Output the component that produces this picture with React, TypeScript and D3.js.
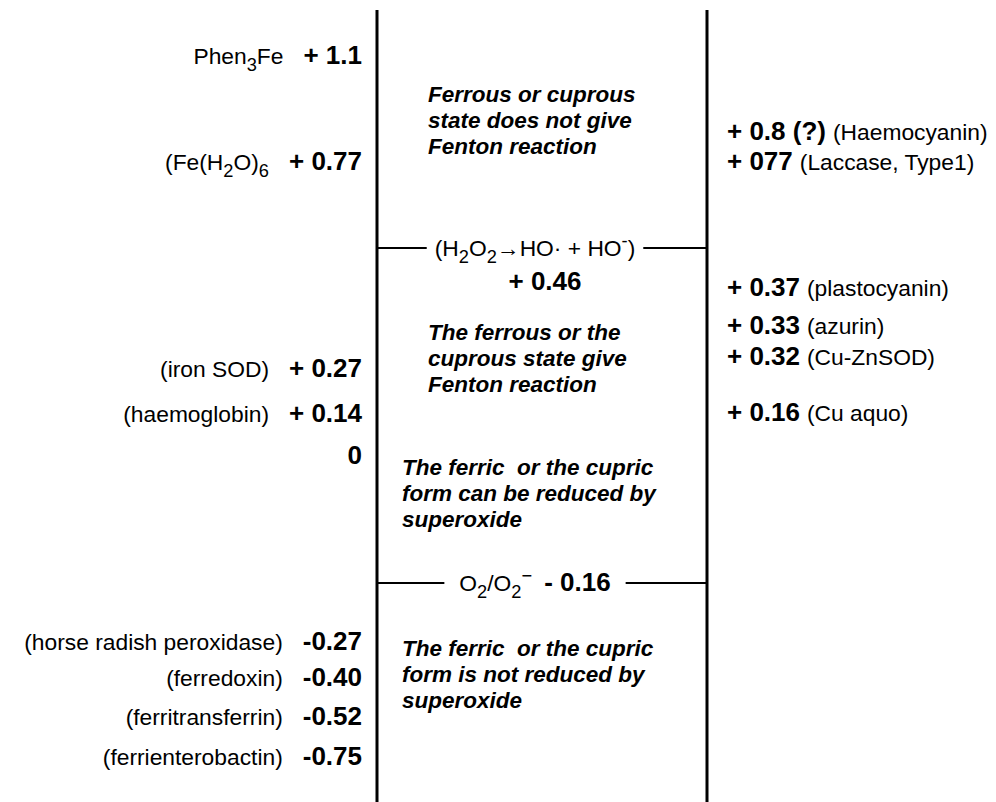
import { useEffect, useRef } from 'react'
import * as d3 from 'd3'

// left column: iron complexes / proteins and their redox potentials (V)
const leftLabels = [
  'Phen_3Fe',
  '(Fe(H_2O)_6',
  '(iron SOD)',
  '(haemoglobin)',
  '',
  '(horse radish peroxidase)',
  '(ferredoxin)',
  '(ferritransferrin)',
  '(ferrienterobactin)',
]
const leftPotentials = [1.1, 0.77, 0.27, 0.14, 0, -0.27, -0.4, -0.52, -0.75]

// right column: copper proteins
const rightLabels = ['(Haemocyanin)', '(Laccase, Type1)', '(plastocyanin)', '(azurin)', '(Cu-ZnSOD)', '(Cu aquo)']
const rightPotentials = [0.8, 0.77, 0.37, 0.33, 0.32, 0.16]
const rightValueText = ['+ 0.8 (?)', '+ 077', '+ 0.37', '+ 0.33', '+ 0.32', '+ 0.16']

// reference couples drawn across the middle column
const coupleLabels = ['(H_2O_2→HO· + HO^-)', 'O_2/O_2^−']
const couplePotentials = [0.46, -0.16]

const zoneNotes = [
  ['Ferrous or cuprous', 'state does not give', 'Fenton reaction'],
  ['The ferrous or the', 'cuprous state give', 'Fenton reaction'],
  ['The ferric  or the cupric', 'form can be reduced by', 'superoxide'],
  ['The ferric  or the cupric', 'form is not reduced by', 'superoxide'],
]

const W = 996
const H = 802
const FONT = '"Liberation Sans", Arial, Helvetica, sans-serif'

const fmtLeft = (v: number) => (v > 0 ? `+ ${v}` : v === 0 ? '0' : v.toFixed(2))
const fmtCouple = (v: number) => (v > 0 ? `+ ${v}` : `- ${Math.abs(v)}`)

// append text with _x subscripts and ^x superscripts, returns the leftover baseline shift
function rich(text: d3.Selection<SVGTextElement, unknown, null, undefined>, str: string, size: number) {
  let shift = 0
  str.split(/([_^].)/).filter(Boolean).forEach(p => {
    let target = 0
    let s = p
    let fs = size
    if (p[0] === '_') { target = size * 0.28; s = p.slice(1); fs = size * 0.8 }
    else if (p[0] === '^') { target = -size * 0.4; s = p.slice(1); fs = size * 0.8 }
    text.append('tspan').attr('dy', target - shift).attr('font-size', fs).text(s)
    shift = target
  })
  return shift
}

export default function App() {
  const ref = useRef<SVGSVGElement>(null)

  useEffect(() => {
    document.body.style.margin = '0'
    if (!ref.current) return
    const svg = d3.select(ref.current)
    svg.selectAll('*').remove()

    const xL = 377
    const xR = 707
    const xMid = (xL + xR) / 2
    const labelSize = 22.8
    const valueSize = 26
    const noteSize = 22.5

    // the ladder is not proportional: each potential sits on its own rung
    const rungs = Array.from(new Set([...leftPotentials, ...rightPotentials, ...couplePotentials])).sort((a, b) => b - a)
    const y = d3.scaleLinear()
      .domain(rungs)
      .range([55, 131, 161, 281, 287, 325, 356, 368, 412, 413, 455, 583, 641, 677, 716, 756])
    const base = (v: number) => y(v) + valueSize * 0.36

    const g = svg.append('g').attr('font-family', FONT).attr('fill', '#000')

    // vertical rails
    g.selectAll('line.rail')
      .data([xL, xR])
      .enter()
      .append('line')
      .attr('x1', d => d).attr('x2', d => d)
      .attr('y1', 10).attr('y2', H)
      .attr('stroke', '#000')
      .attr('stroke-width', 3)

    // left column
    leftPotentials.forEach((v, i) => {
      const t = g.append('text')
        .attr('x', 362)
        .attr('y', base(v))
        .attr('text-anchor', 'end')
        .attr('font-size', labelSize)
      const shift = leftLabels[i] ? rich(t, leftLabels[i], labelSize) : 0
      t.append('tspan')
        .attr('dx', leftLabels[i] ? 20 : 0)
        .attr('dy', -shift)
        .attr('font-weight', 'bold')
        .attr('font-size', valueSize)
        .text(fmtLeft(v))
    })

    // right column
    rightPotentials.forEach((v, i) => {
      const t = g.append('text')
        .attr('x', 727)
        .attr('y', base(v))
        .attr('font-size', labelSize)
      t.append('tspan')
        .attr('font-weight', 'bold')
        .attr('font-size', valueSize)
        .text(rightValueText[i])
      t.append('tspan')
        .attr('dx', 7)
        .text(rightLabels[i])
    })

    // reference couples with their threshold lines
    couplePotentials.forEach((v, i) => {
      const inline = i === 1
      const lineY = inline ? y(v) : y(v) - 33
      const gap = inline ? 15 : 8
      const t = g.append('text')
        .attr('x', xMid - 7)
        .attr('y', lineY + labelSize * 0.36)
        .attr('text-anchor', 'middle')
        .attr('font-size', labelSize)
      const shift = rich(t, coupleLabels[i], labelSize)
      if (inline) {
        t.append('tspan')
          .attr('dx', 12)
          .attr('dy', -shift)
          .attr('font-weight', 'bold')
          .attr('font-size', valueSize)
          .text(fmtCouple(v))
      } else {
        g.append('text')
          .attr('x', xMid + 3)
          .attr('y', base(v))
          .attr('text-anchor', 'middle')
          .attr('font-weight', 'bold')
          .attr('font-size', valueSize)
          .text(fmtCouple(v))
      }
      const bb = (t.node() as SVGTextElement).getBBox()
      g.append('line')
        .attr('x1', xL).attr('x2', bb.x - gap)
        .attr('y1', lineY).attr('y2', lineY)
        .attr('stroke', '#000').attr('stroke-width', 2)
      g.append('line')
        .attr('x1', bb.x + bb.width + gap).attr('x2', xR)
        .attr('y1', lineY).attr('y2', lineY)
        .attr('stroke', '#000').attr('stroke-width', 2)
    })

    // zone notes in bold italic
    const noteX = [428, 428, 402, 402]
    const noteY = [102, 340, 475, 656]
    zoneNotes.forEach((lines, i) => {
      g.append('text')
        .attr('font-size', noteSize)
        .attr('font-weight', 'bold')
        .attr('font-style', 'italic')
        .style('white-space', 'pre')
        .selectAll('tspan')
        .data(lines)
        .enter()
        .append('tspan')
        .attr('x', noteX[i])
        .attr('y', (_, j) => noteY[i] + j * 26)
        .text(d => d)
    })
  }, [])

  return <svg ref={ref} width={W} height={H} style={{ display: 'block', background: '#fff' }}></svg>
}
